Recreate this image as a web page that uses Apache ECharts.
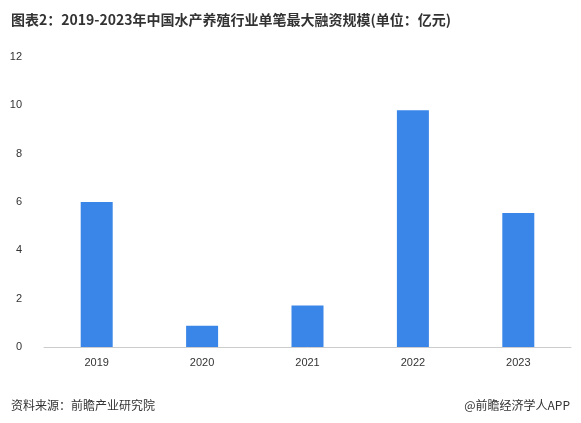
<!DOCTYPE html>
<html><head><meta charset="utf-8">
<script src="https://cdn.jsdelivr.net/npm/echarts@6/dist/echarts.min.js"></script>
<style>body{margin:0}#c{width:581px;height:423px}</style></head>
<body><div id="c"></div>
<script>
const categories = ['2019','2020','2021','2022','2023'];
const values = [6.0, 0.88, 1.72, 9.8, 5.55];
const chart = echarts.init(document.getElementById('c'));
chart.setOption({
  backgroundColor:'#fff',
  title:[{text:'图表2：2019-2023年中国水产养殖行业单笔最大融资规模(单位：亿元)',left:6,top:8,textStyle:{fontSize:14,fontWeight:'bold',color:'#333',fontFamily:'Noto Sans CJK SC'}},
    {text:'资料来源：前瞻产业研究院',left:6,top:394,textStyle:{fontSize:12,fontWeight:'normal',color:'#333',fontFamily:'Noto Sans CJK SC'}},
    {text:'@前瞻经济学人APP',right:6,top:394,textStyle:{fontSize:12,fontWeight:'normal',color:'#333',fontFamily:'Noto Sans CJK SC'}}],
  grid:{left:44,right:10,top:57,bottom:76},
  xAxis:{type:'category',data:categories,axisTick:{show:false},axisLine:{lineStyle:{color:'#ccc'}},axisLabel:{color:'#333',fontSize:11,margin:10}},
  yAxis:{type:'value',min:0,max:12,interval:2,splitLine:{show:false},axisLine:{show:false},axisTick:{show:false},axisLabel:{color:'#333',fontSize:11,margin:22}},
  series:[{type:'bar',data:values,barWidth:32,itemStyle:{color:'#3a86e8'}}]
});
</script></body></html>
